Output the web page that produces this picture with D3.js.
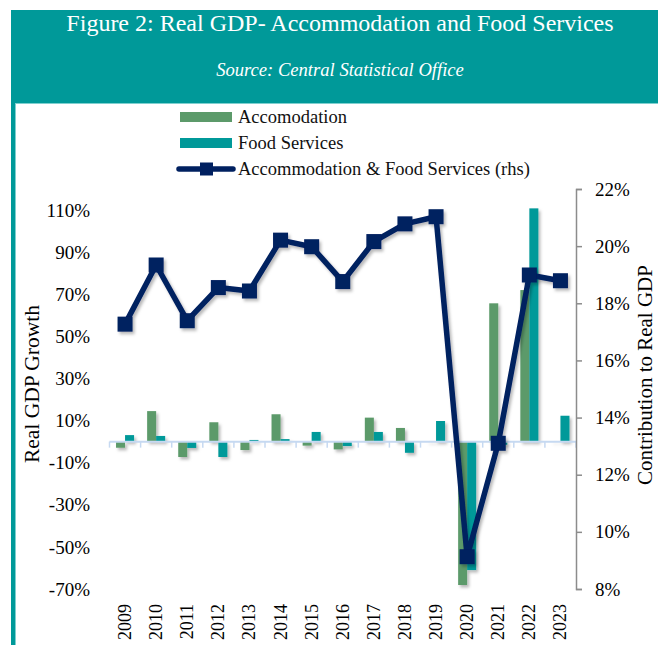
<!DOCTYPE html>
<html>
<head>
<meta charset="utf-8">
<script src="https://cdnjs.cloudflare.com/ajax/libs/d3/7.8.5/d3.min.js"></script>
<style>
  html, body { margin: 0; padding: 0; background: #ffffff; }
  svg { display: block; }
  text { font-family: "Liberation Serif", "Times New Roman", serif; }
</style>
</head>
<body>
<svg id="chart" width="658" height="645"></svg>
<script>
// ---------- data ----------
const years = ["2009","2010","2011","2012","2013","2014","2015","2016","2017","2018","2019","2020","2021","2022","2023"];
const accommodation = [-2.9, 14.5, -7.3, 9.2, -4.0, 13.0, -1.9, -3.7, 11.4, 6.5, 0.3, -68.1, 65.7, 72.0, 0.2];
const foodServices = [3.1, 2.7, -3.0, -7.3, 0.8, 1.2, 4.6, -2.1, 4.6, -5.3, 9.8, -61.0, -1.5, 110.8, 12.3];
const contribution = [17.27, 19.34, 17.39, 18.55, 18.43, 20.21, 19.98, 18.76, 20.16, 20.78, 21.03, 9.13, 13.10, 18.99, 18.79];
const leftTicks = [-70, -50, -30, -10, 10, 30, 50, 70, 90, 110];
const rightTicks = [8, 10, 12, 14, 16, 18, 20, 22];
const seriesNames = ["Accomodation", "Food Services"];
const lineName = "Accommodation & Food Services (rhs)";
const titleText = "Figure 2: Real GDP- Accommodation and Food Services";
const sourceText = "Source: Central Statistical Office";
const leftTitle = "Real GDP Growth";
const rightTitle = "Contribution to Real GDP";

// ---------- styles ----------
const TEAL = "#009999";
const GREEN = "#5c9a6a";
const NAVY = "#002060";

const svg = d3.select("#chart");
const defs = svg.append("defs");
const f = defs.append("filter").attr("id", "shadow").attr("x", "-50%").attr("y", "-50%").attr("width", "200%").attr("height", "200%");
f.append("feDropShadow").attr("dx", 2).attr("dy", 2.5).attr("stdDeviation", 1.5)
  .attr("flood-color", "#000").attr("flood-opacity", 0.28);

// header band
svg.append("rect").attr("x", 11).attr("y", 10).attr("width", 647).attr("height", 93).attr("fill", TEAL);
svg.append("line").attr("x1", 11).attr("x2", 658).attr("y1", 103.5).attr("y2", 103.5)
  .attr("stroke", "#7fd0cf").attr("stroke-width", 1);
// left border
svg.append("rect").attr("x", 11).attr("y", 103).attr("width", 4).attr("height", 542).attr("fill", TEAL);
svg.append("line").attr("x1", 15.5).attr("x2", 15.5).attr("y1", 103).attr("y2", 645)
  .attr("stroke", "#7fd0cf").attr("stroke-width", 1);

svg.append("text").attr("x", 340).attr("y", 31).attr("text-anchor", "middle")
  .attr("fill", "#fff").attr("font-size", 24).text(titleText);
svg.append("text").attr("x", 340).attr("y", 76).attr("text-anchor", "middle")
  .attr("fill", "#fff").attr("font-size", 18.6).attr("font-style", "italic").text(sourceText);

// ---------- scales ----------
const plotLeft = 109.5, plotRight = 576, plotTop = 189, plotBottom = 589;
const x = d3.scaleBand().domain(years).range([plotLeft, plotRight]).padding(0);
const bw = x.bandwidth();
const xs = d3.scaleBand().domain(seriesNames).range([bw / 2 - bw * 0.29, bw / 2 + bw * 0.29]).padding(0);
const yL = d3.scaleLinear().domain([-70, 120]).range([plotBottom, plotTop]);
const yR = d3.scaleLinear().domain([8, 22]).range([plotBottom, plotTop]);

// ---------- bars ----------
const barData = years.map((yr, i) => ({ yr, vals: [accommodation[i], foodServices[i]] }));
const colors = [GREEN, TEAL];
const gBars = svg.append("g").attr("filter", "url(#shadow)");
barData.forEach(d => {
  d.vals.forEach((v, j) => {
    gBars.append("rect")
      .attr("x", x(d.yr) + xs(seriesNames[j]))
      .attr("width", xs.bandwidth())
      .attr("y", Math.min(yL(v), yL(0)))
      .attr("height", Math.abs(yL(v) - yL(0)))
      .attr("fill", colors[j]);
  });
});

// category axis line at zero
const gx = svg.append("g");
gx.append("line").attr("x1", plotLeft).attr("x2", plotRight).attr("y1", yL(0)).attr("y2", yL(0))
  .attr("stroke", "#c6d9f1").attr("stroke-width", 2);
years.forEach((yr, i) => {
  gx.append("line").attr("x1", x(yr)).attr("x2", x(yr)).attr("y1", yL(0)).attr("y2", yL(0) + 6)
    .attr("stroke", "#c6d9f1").attr("stroke-width", 1.5);
});
gx.append("line").attr("x1", plotRight).attr("x2", plotRight).attr("y1", yL(0)).attr("y2", yL(0) + 6)
  .attr("stroke", "#c6d9f1").attr("stroke-width", 1.5);

// x labels
years.forEach(yr => {
  svg.append("text")
    .attr("transform", `translate(${x(yr) + bw / 2 + 6},604) rotate(-90)`)
    .attr("text-anchor", "end").attr("font-size", 18).attr("fill", "#000").text(yr);
});

// left axis labels
leftTicks.forEach(t => {
  svg.append("text").attr("x", 90).attr("y", yL(t)).attr("dy", "0.35em")
    .attr("text-anchor", "end").attr("font-size", 19).attr("fill", "#000").text(t + "%");
});
svg.append("text").attr("transform", `translate(39,384) rotate(-90)`).attr("text-anchor", "middle")
  .attr("font-size", 21.5).attr("fill", "#000").text(leftTitle);

// right axis
const gR = svg.append("g").attr("transform", `translate(${plotRight},0)`);
const rAxis = d3.axisRight(yR).tickValues(rightTicks).tickSize(6).tickFormat(d => d + "%");
gR.call(rAxis);
gR.select(".domain").attr("stroke", "#8c8c8c").attr("stroke-width", 1.5);
gR.selectAll(".tick line").attr("stroke", "#8c8c8c").attr("stroke-width", 1.5);
gR.selectAll(".tick text").attr("x", 19).attr("font-size", 19).attr("fill", "#000")
  .attr("font-family", "Liberation Serif, serif");
svg.append("text").attr("transform", `translate(652,375) rotate(-90)`).attr("text-anchor", "middle")
  .attr("font-size", 21).attr("fill", "#000").text(rightTitle);

// ---------- line ----------
const lineGen = d3.line().x((d, i) => x(years[i]) + bw / 2).y(d => yR(d));
const gLine = svg.append("g").attr("filter", "url(#shadow)");
gLine.append("path").datum(contribution).attr("d", lineGen).attr("fill", "none")
  .attr("stroke", NAVY).attr("stroke-width", 5.5).attr("stroke-linejoin", "round");
const ms = 15;
gLine.selectAll("rect.m").data(contribution).enter().append("rect")
  .attr("x", (d, i) => x(years[i]) + bw / 2 - ms / 2).attr("y", d => yR(d) - ms / 2)
  .attr("width", ms).attr("height", ms).attr("fill", NAVY);

// ---------- legend ----------
const lg = svg.append("g");
const legendRows = [117, 143, 169];
lg.append("rect").attr("x", 180).attr("y", legendRows[0] - 5).attr("width", 52).attr("height", 10).attr("fill", GREEN);
lg.append("rect").attr("x", 180).attr("y", legendRows[1] - 5).attr("width", 52).attr("height", 10).attr("fill", TEAL);
lg.append("line").attr("x1", 179).attr("x2", 233).attr("y1", legendRows[2]).attr("y2", legendRows[2])
  .attr("stroke", NAVY).attr("stroke-width", 5.5).attr("stroke-linecap", "round");
lg.append("rect").attr("x", 200).attr("y", legendRows[2] - 6.5).attr("width", 13).attr("height", 13).attr("fill", NAVY);
[seriesNames[0], seriesNames[1], lineName].forEach((t, i) => {
  lg.append("text").attr("x", 238).attr("y", legendRows[i]).attr("dy", "0.33em")
    .attr("font-size", 18.5).attr("fill", "#111").text(t);
});
</script>
</body>
</html>
